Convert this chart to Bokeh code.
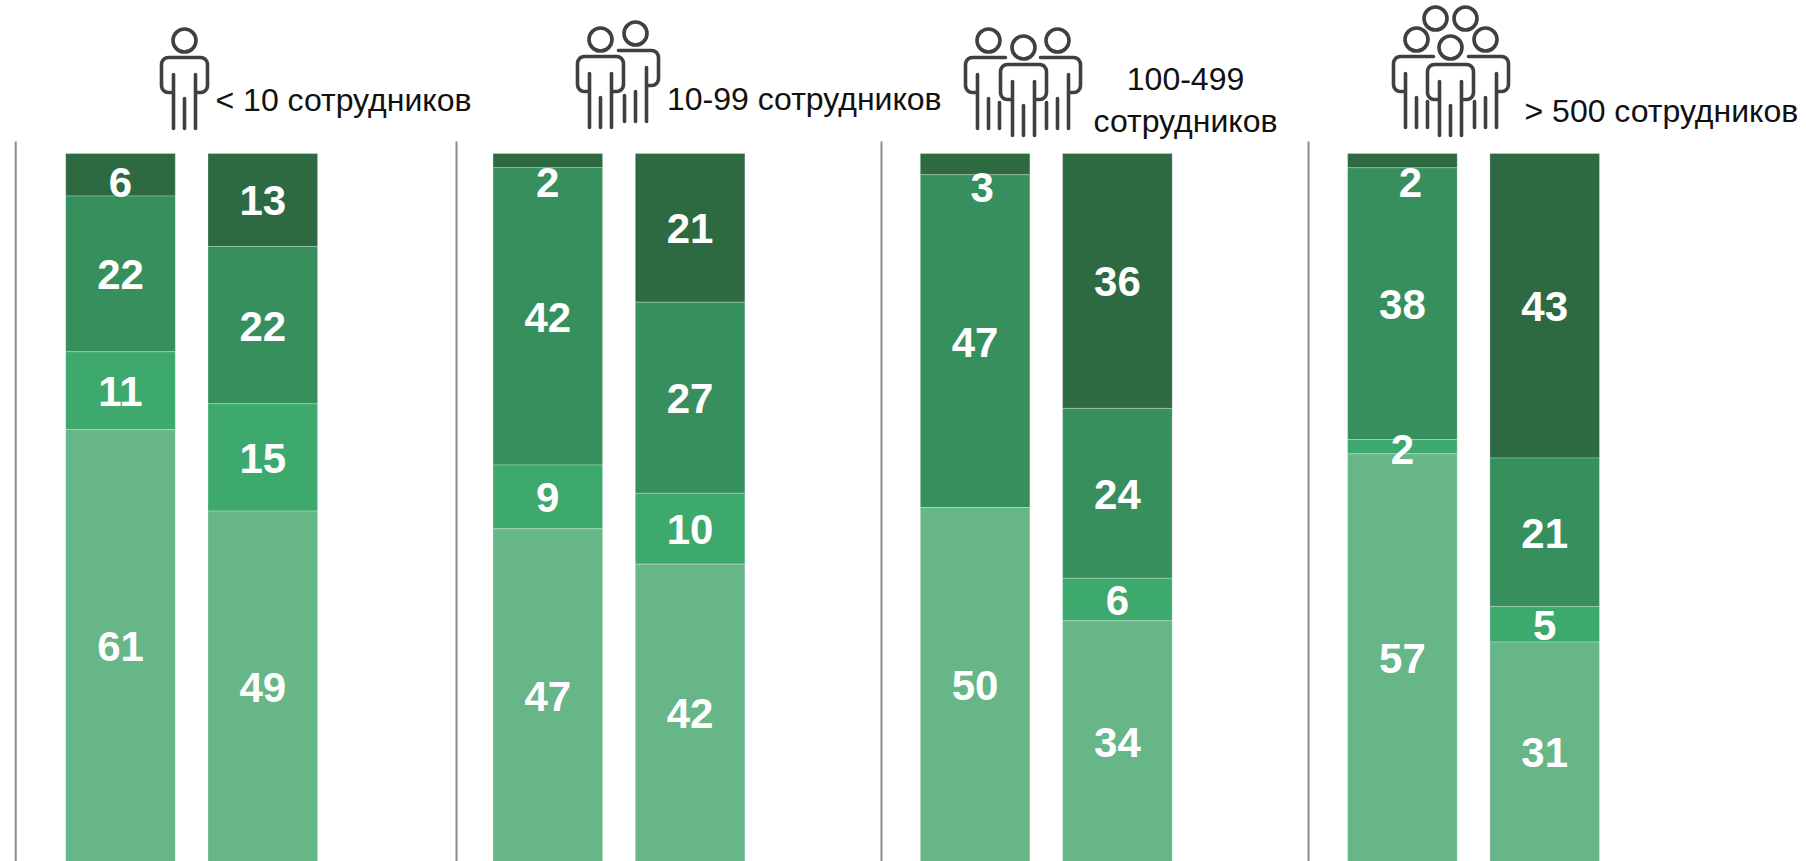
from bokeh.plotting import figure
from bokeh.models import ColumnDataSource, Range1d
from bokeh.core.properties import value
from bokeh.embed import file_html
from bokeh.resources import INLINE
import math

# ---- data: each group has two bars, stacked from the top downwards, drawn as 100 % bars
segments_colors = ["#2D6A41", "#378F5D", "#3DA96C", "#67B688"]
group_names = ["< 10 сотрудников", "10-99 сотрудников", "100-499 сотрудников", "> 500 сотрудников"]
bar_a = [[6, 22, 11, 61], [2, 42, 9, 47], [3, 47, 0, 50], [2, 38, 2, 57]]
bar_b = [[13, 22, 15, 49], [21, 27, 10, 42], [36, 24, 6, 34], [43, 21, 5, 31]]

# ---- layout
WIDTH, HEIGHT = 1806, 861
FIRST_CENTER, GROUP_STEP, BAR_STEP, BAR_W = 120.0, 427.3, 142.3, 109.6
TOP_PX, UNIT_PX = 153.0, 7.08
SEP_X = [15.2, 456, 881, 1308]
INK = "#404040"

p = figure(width=WIDTH, height=HEIGHT, output_backend="svg", toolbar_location=None,
           x_range=Range1d(0, WIDTH),
           y_range=Range1d(100 - (HEIGHT - TOP_PX) / UNIT_PX, 100 + TOP_PX / UNIT_PX),
           min_border=0, outline_line_color=None)
p.axis.visible = False
p.grid.visible = False
p.extra_y_ranges = {"px": Range1d(HEIGHT, 0)}

# bars and labels; a few small segments have their label moved off the segment
label_shift = {(1, 0, 0): (0, 22), (3, 0, 0): (8, 22), (2, 0, 0): (7, 23), (0, 0, 0): (0, 8), (3, 0, 2): (0, 3)}
bx, btop, bbot, bcol, lx, ly, lt, lxo, lyo = [], [], [], [], [], [], [], [], []
for g in range(4):
    for b, vals in enumerate((bar_a[g], bar_b[g])):
        cx = FIRST_CENTER + g * GROUP_STEP + b * BAR_STEP
        total = sum(vals)
        top = 100.0
        for s, v in enumerate(vals):
            h = v / total * 100
            if v:
                dx, dy = label_shift.get((g, b, s), (0, 1))
                bx.append(cx); btop.append(top); bbot.append(top - h); bcol.append(segments_colors[s])
                lx.append(cx); ly.append(top - h / 2); lt.append(str(v)); lxo.append(dx); lyo.append(dy)
            top -= h
p.vbar(x="x", width=BAR_W, bottom="b", top="t", fill_color="c", line_color="#ffffff", line_alpha=0.25, line_width=1,
       source=ColumnDataSource(dict(x=bx, b=bbot, t=btop, c=bcol)))
p.text(x="x", y="y", text="t", x_offset="xo", y_offset="yo", text_align="center", text_baseline="middle",
       text_color="#ffffff", text_font=value("Liberation Sans"), text_font_style="bold", text_font_size="42px",
       source=ColumnDataSource(dict(x=lx, y=ly, t=lt, xo=lxo, yo=lyo)))

# separators
p.segment(x0=SEP_X, x1=SEP_X, y0=[141] * 4, y1=[HEIGHT] * 4, y_range_name="px", line_color="#8c8c8c", line_width=2)

# people icons
def arc(cx, cy, r, a0, a1, n=6):
    return [(cx + r * math.cos(math.radians(a0 + (a1 - a0) * i / n)),
             cy + r * math.sin(math.radians(a0 + (a1 - a0) * i / n))) for i in range(n + 1)]

def side(sign):
    # one half of the shoulder outline, going from the neck to the hook, mirrored by sign
    pts = [(0, 17)] + arc(16, 24, 7, -90, 0) + arc(16, 45, 7, 0, 90) + [(12, 52)]
    return [(sign * x, y) for x, y in pts]

xs, ys, hx, hy = [], [], [], []
def line(pts, cx, top):
    xs.append([cx + x for x, _ in pts]); ys.append([top + y for _, y in pts])

def person(cx, top, left=True, right=True, clip_left=17, clip_right=17):
    hx.append(cx); hy.append(top)
    L = side(-1)[::-1] if left else [(-clip_left, 17)]
    R = side(1) if right else [(clip_right, 17)]
    line(L + R, cx, top)
    if left:
        line([(-11, 34), (-11, 88)], cx, top)
    else:
        line([(-11, 62), (-11, 88)], cx, top)
    line([(0, 58), (0, 88)], cx, top)
    if right:
        line([(11, 34), (11, 88)], cx, top)
    else:
        line([(11, 62), (11, 88)], cx, top)

person(184, 40)
person(635, 33, left=False); person(600, 39)
person(988, 40, right=False); person(1057, 40, left=False); person(1023, 47)
hx += [1435, 1465]; hy += [18, 18]
person(1416, 39, right=False); person(1485, 39, left=False); person(1450, 47)

p.multi_line(xs=xs, ys=ys, y_range_name="px", line_color=INK, line_width=3.6, line_cap="round", line_join="round")
p.circle(x=hx, y=hy, radius=11.5, y_range_name="px", fill_color=None, line_color=INK, line_width=3.6)

# header texts
head = dict(y_range_name="px", text_color="#111111", text_font=value("Liberation Sans"),
            text_font_size="32px", text_baseline="alphabetic")
p.text(x=[215, 666.5, 1524], y=[99, 98.5, 110], text=[group_names[0], group_names[1], group_names[3]],
       text_align="left", **head)
first, second = group_names[2].split(" ")
p.text(x=[1185, 1185], y=[78, 120.6], text=[first, second], text_align="center", **head)

open("out.html", "w").write(file_html(p, INLINE))
